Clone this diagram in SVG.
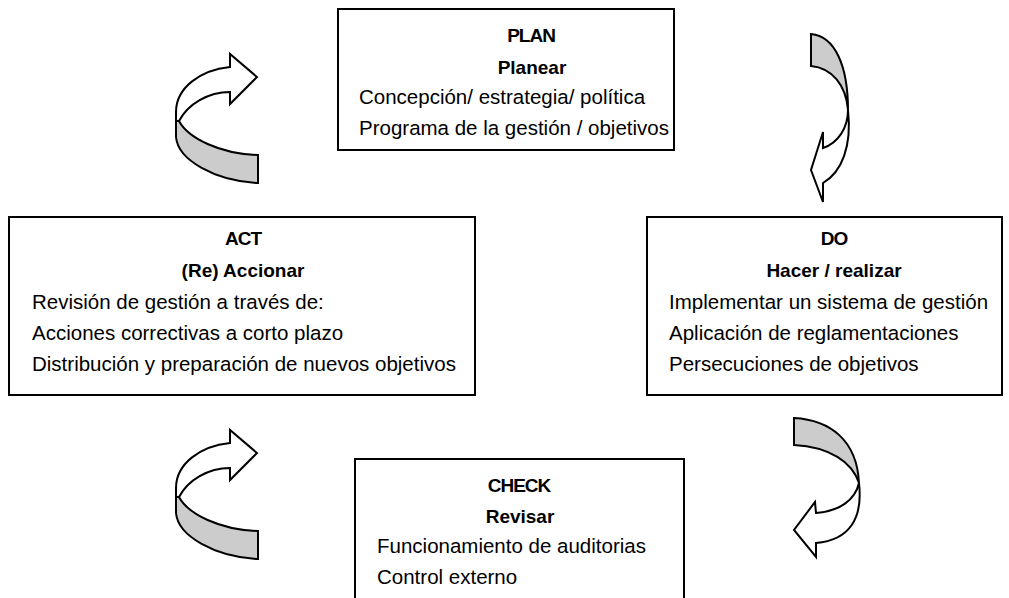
<svg xmlns="http://www.w3.org/2000/svg" width="1009" height="598" viewBox="0 0 1009 598">
<style>
  .box { fill: #ffffff; stroke: #000000; stroke-width: 2; }
  .title { font-family: "Liberation Sans", Arial, sans-serif; font-size: 19px; font-weight: bold; fill: #000; text-anchor: middle; }
  .caps { letter-spacing: -1px; }
  .body { font-family: "Liberation Sans", Arial, sans-serif; font-size: 20.5px; fill: #000; }
  .band { fill: #cccccc; stroke: #000; stroke-width: 2; stroke-linejoin: miter; }
  .head { fill: #ffffff; stroke: #000; stroke-width: 2; stroke-linejoin: miter; }
</style>
<defs>
  <g id="leftArrow">
    <path class="band" d="M 179,121 C 188,138 220,154 258,155 L 258,183 C 215,181 178,160 176,137 L 176,121 Z"/>
    <path class="head" d="M 176,121 L 176,112 C 176,88 200,70 230,67 L 230,54 L 257,77 L 230,104 L 230,92 C 208,92 188,104 179,121 Z"/>
  </g>
</defs>
<rect width="1009" height="598" fill="#ffffff"/>

<g id="connectors">
  <use href="#leftArrow"/>
  <use href="#leftArrow" transform="translate(0,376)"/>
  <g id="arrow-plan-do">
    <path class="band" d="M 811,34 C 835,36 848,66 848,110 C 846,85 832,68 811,66 Z"/>
    <path class="head" d="M 848,110 C 848,128 838,143 823,148 L 823,132 L 811,170 L 823,202 L 823,183 C 842,172 852,146 848,110 Z"/>
  </g>
  <g id="arrow-do-check">
    <path class="band" d="M 794,418 C 830,420 857,440 859,483 C 852,462 830,447 794,445 Z"/>
    <path class="head" d="M 859,483 C 855,500 840,511 816,513 L 815,502 L 794,530 L 816,557 L 816,543 C 850,540 863,518 859,483 Z"/>
  </g>
</g>

<g id="plan">
  <rect class="box" x="338" y="9" width="336" height="141"/>
  <text class="title caps" x="531" y="42">PLAN</text>
  <text class="title" x="532" y="74">Planear</text>
  <text class="body" x="359" y="104">Concepción/ estrategia/ política</text>
  <text class="body" x="359" y="135">Programa de la gestión / objetivos</text>
</g>

<g id="act">
  <rect class="box" x="9" y="217" width="466" height="178"/>
  <text class="title caps" x="243" y="245">ACT</text>
  <text class="title" x="243" y="277">(Re) Accionar</text>
  <text class="body" x="32" y="309">Revisión de gestión a través de:</text>
  <text class="body" x="32" y="340">Acciones correctivas a corto plazo</text>
  <text class="body" x="32" y="371">Distribución y preparación de nuevos objetivos</text>
</g>

<g id="do">
  <rect class="box" x="647" y="217" width="355" height="178"/>
  <text class="title caps" x="834" y="245">DO</text>
  <text class="title" x="834" y="277">Hacer / realizar</text>
  <text class="body" x="669" y="309">Implementar un sistema de gestión</text>
  <text class="body" x="669" y="340">Aplicación de reglamentaciones</text>
  <text class="body" x="669" y="371">Persecuciones de objetivos</text>
</g>

<g id="check">
  <rect class="box" x="355" y="459" width="329" height="150"/>
  <text class="title caps" x="519" y="492">CHECK</text>
  <text class="title" x="520" y="523">Revisar</text>
  <text class="body" x="377" y="553">Funcionamiento de auditorias</text>
  <text class="body" x="377" y="584">Control externo</text>
</g>
</svg>
